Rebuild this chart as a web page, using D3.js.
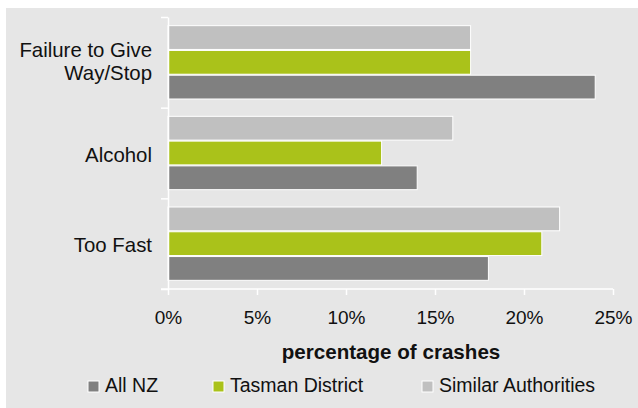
<!DOCTYPE html>
<html><head><meta charset="utf-8">
<script src="https://cdn.jsdelivr.net/npm/d3@7"></script>
<style>body{margin:0;background:#fff}svg{display:block}text{font-family:"Liberation Sans",Arial,sans-serif;fill:#111}</style>
</head><body>
<svg id="c" width="638" height="408"></svg>
<script>
const categories = ["Failure to Give Way/Stop", "Alcohol", "Too Fast"];
const categoryLines = [["Failure to Give", "Way/Stop"], ["Alcohol"], ["Too Fast"]];
const seriesNames = ["Similar Authorities", "Tasman District", "All NZ"];
const similarAuthorities = [17, 16, 22];
const tasmanDistrict = [17, 12, 21];
const allNZ = [24, 14, 18];
const xTicks = [0, 5, 10, 15, 20, 25];
const legendOrder = ["All NZ", "Tasman District", "Similar Authorities"];
const colors = {"All NZ": "#808080", "Tasman District": "#aac21a", "Similar Authorities": "#c0c0c0"};
const values = {"Similar Authorities": similarAuthorities, "Tasman District": tasmanDistrict, "All NZ": allNZ};

const svg = d3.select("#c");
svg.append("rect").attr("x", 6).attr("y", 8).attr("width", 632).attr("height", 400).attr("fill", "#e6e6e6");

const mLeft = 168, mRight = 613, mTop = 17, mBottom = 289;
const x = d3.scaleLinear().domain([0, 25]).range([mLeft, mRight]);
const y = d3.scaleBand().domain(categories).range([mTop, mBottom]).paddingInner(0).paddingOuter(0);
const inner = d3.scaleBand().domain(seriesNames).range([0, y.bandwidth()]).paddingOuter(0.35).paddingInner(0.04);

categories.forEach((c, i) => {
  seriesNames.forEach(s => {
    svg.append("rect")
      .attr("x", x(0)).attr("y", y(c) + inner(s))
      .attr("width", x(values[s][i]) - x(0)).attr("height", inner.bandwidth())
      .attr("fill", colors[s]).attr("stroke", "#fff").attr("stroke-width", 1);
  });
});

// axes
const xAxis = svg.append("g").attr("transform", `translate(0,${mBottom})`)
  .call(d3.axisBottom(x).tickValues(xTicks).tickFormat(d => d + "%").tickSize(6).tickSizeOuter(0));
xAxis.select(".domain").attr("stroke", "#fff").attr("stroke-width", 1.5).attr("d", `M${mLeft-7},0H${mRight}`);
xAxis.selectAll(".tick line").attr("stroke", "#fff").attr("stroke-width", 1.5);
xAxis.selectAll(".tick text").attr("dy", 0).attr("y", 35).style("font-size", "19px").style("font-family", "Liberation Sans, Arial, sans-serif").attr("fill", "#111");

const yAxis = svg.append("g").attr("transform", `translate(${mLeft},0)`)
  .call(d3.axisLeft(d3.scaleLinear().domain([0, 3]).range([mBottom, mTop])).tickValues([0,1,2,3]).tickFormat("").tickSize(7).tickSizeOuter(0));
yAxis.select(".domain").attr("stroke", "#fff").attr("stroke-width", 1.5);
yAxis.selectAll(".tick line").attr("stroke", "#fff").attr("stroke-width", 1.5);

categories.forEach((c, i) => {
  const lines = categoryLines[i];
  const cy = y(c) + y.bandwidth() / 2;
  const lh = 23;
  const off = lines.length > 1 ? 6.5 : 8.5;
  lines.forEach((l, j) => {
    svg.append("text").attr("x", 152).attr("y", cy + (j - (lines.length - 1) / 2) * lh + off)
      .attr("text-anchor", "end").style("font-size", "20.4px").text(l);
  });
});

svg.append("text").attr("x", 391).attr("y", 359).attr("text-anchor", "middle")
  .style("font-size", "20.6px").style("font-weight", "bold").text("percentage of crashes");

const legendX = [88, 213, 422];
legendOrder.forEach((s, i) => {
  svg.append("rect").attr("x", legendX[i]).attr("y", 381).attr("width", 11).attr("height", 11)
    .attr("fill", colors[s]).attr("stroke", "#fff").attr("stroke-width", 1);
  svg.append("text").attr("x", legendX[i] + 17).attr("y", 392).style("font-size", "19.5px").text(s);
});
</script>
</body></html>
